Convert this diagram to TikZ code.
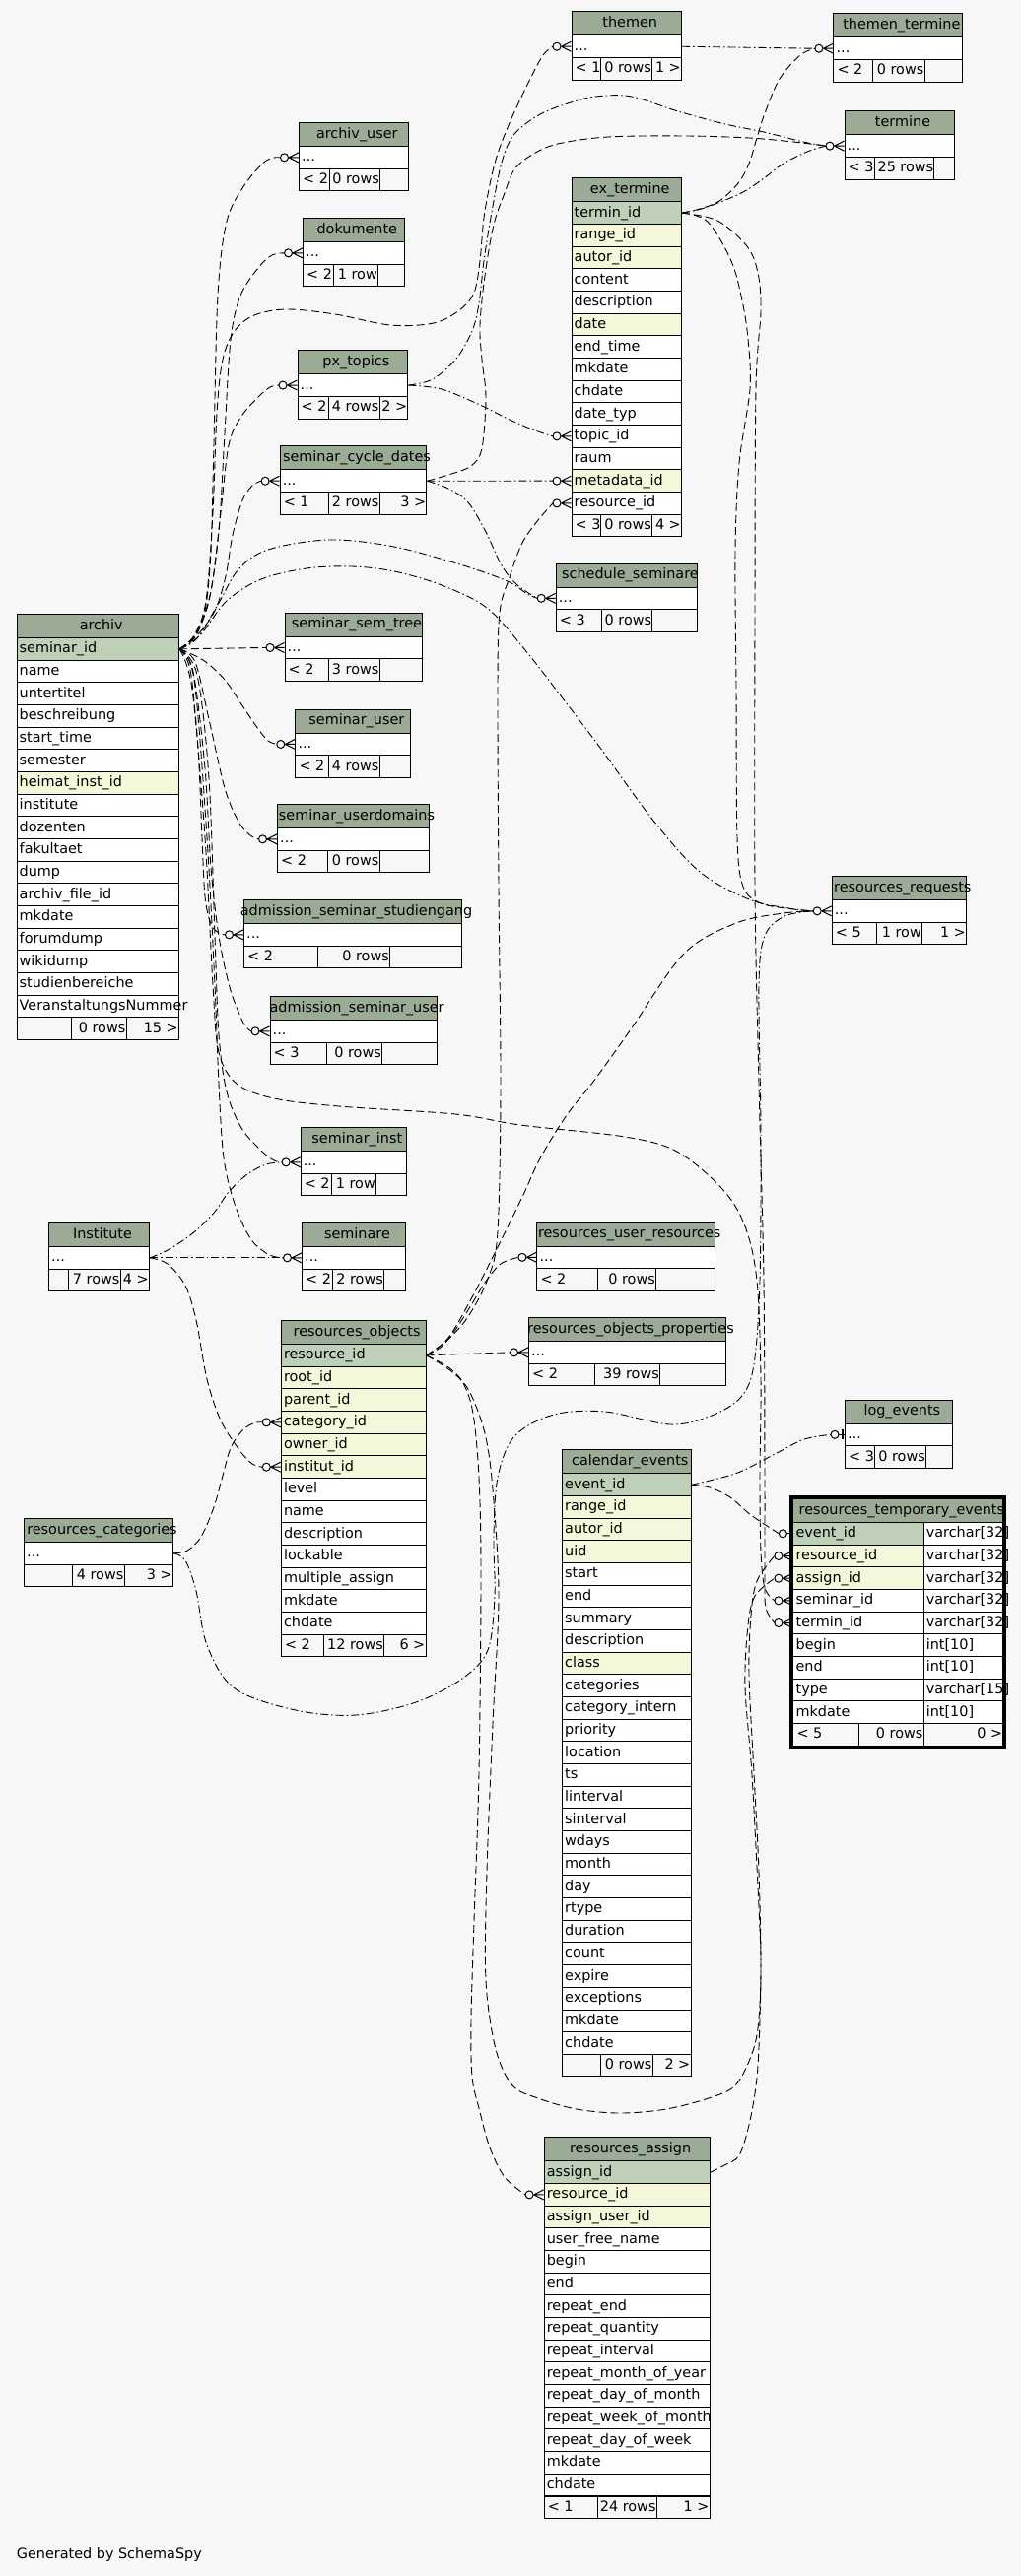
\documentclass[tikz,border=0pt]{standalone}
\usepackage{fontspec}
\setmainfont{DejaVu Sans}
\usetikzlibrary{calc}
\pgfdeclarelayer{back}\pgfdeclarelayer{edges}\pgfsetlayers{back,edges,main}
\definecolor{bgc}{HTML}{F7F7F7}
\definecolor{hdc}{HTML}{9BAB96}
\definecolor{pkc}{HTML}{BED1B8}
\definecolor{fkc}{HTML}{F4F7DA}
\definecolor{wc}{HTML}{FFFFFF}
\definecolor{ftc}{HTML}{F7F7F7}
\newcommand\tfont{\fontsize{14.4}{17}\selectfont}
\newlength\hw
\tikzset{
 txt/.style={inner sep=0pt, font=\tfont, text height=10.5pt, text depth=2.5pt},
 hdcell/.style={draw=black, line width=1pt, fill=hdc, minimum height=24pt, inner sep=0pt},
 rowcell/.style={draw=black, line width=1pt, minimum height=22.67pt, inner sep=0pt},
 ftcell/.style={rowcell, fill=ftc},
 conn/.style={line width=0.9pt, dash pattern=on 8pt off 4pt},
 conndd/.style={line width=0.9pt, dash pattern=on 8pt off 3pt on 1.5pt off 3pt},
 mk/.style={line width=1pt}
}
\newcommand\tabhead[5]{%
 \node[hdcell, minimum width={#3-#2}, anchor=north west] (#1) at (#2,#4) {};
 \settowidth\hw{\tfont #5}%
 \pgfmathsetmacro\hx{max(#2+7+0.5*\hw, 0.5*(#2+#3)+4)}%
 \node[txt, anchor=center] (#1-t) at (\hx,#4+12) {#5};
}
\newcommand\trow[6]{%
 \node[rowcell, fill=#5, minimum width={#3-#2}, anchor=north west] (#1) at (#2,#4) {};
 \node[txt, anchor=west] (#1-t) at ([xshift=3]#1.west) {#6};
}
\newcommand\tbl[6]{%
 \tabhead{#1}{#2}{#3}{#4}{#5}
 \foreach \rt/\rc [count=\i] in {#6} {
  \pgfmathsetmacro\ry{#4+24+(\i-1)*22.67}
  \trow{#1-\i}{#2}{#3}{\ry}{\rc}{\rt}
 }
}
\newcommand\stbl[5]{%
 \tabhead{#1}{#2}{#3}{#4}{#5}
 \trow{#1-1}{#2}{#3}{#4+24}{wc}{...}
}
\newcommand\tfoot[9]{%
 \node[ftcell, minimum width={#3-#2}, anchor=north west] (#1-f1) at (#2,#6) {};
 \node[ftcell, minimum width={#4-#3}, anchor=north west] (#1-f2) at (#3,#6) {};
 \node[ftcell, minimum width={#5-#4}, anchor=north west] (#1-f3) at (#4,#6) {};
 \node[txt, anchor=west] (#1-l) at ([xshift=4]#1-f1.west) {#7};
 \node[txt, anchor=east] (#1-m) at ([xshift=-1]#1-f2.east) {#8};
 \node[txt, anchor=east] (#1-r) at ([xshift=-1]#1-f3.east) {#9};
}
\newcommand\crow[1]{%
 \draw[mk] ([xshift=-10]#1.west) -- ([yshift=5]#1.west) ([xshift=-10]#1.west) -- (#1.west) ([xshift=-10]#1.west) -- ([yshift=-5]#1.west);
 \draw[mk] ([xshift=-14.5]#1.west) circle[radius=4pt];
 \coordinate (#1-in) at ([xshift=-18.5]#1.west);
}
\newcommand\teeo[1]{%
 \draw[mk] ([xshift=-6]#1.west) -- (#1.west);
 \draw[line width=2pt] ([xshift=-2,yshift=5]#1.west) -- ([xshift=-2,yshift=-5]#1.west);
 \draw[mk] ([xshift=-10]#1.west) circle[radius=4pt];
 \coordinate (#1-in) at ([xshift=-14]#1.west);
}
\begin{document}
\begin{tikzpicture}[x=1pt,y=-1pt]
\useasboundingbox (0,0) rectangle (1036,2615);
\begin{pgfonlayer}{back}\fill[bgc] (0,0) rectangle (1036,2615);\end{pgfonlayer}

% ---------- small tables ----------
\stbl{th}{579.5}{691}{11.4}{themen}
\tfoot{th}{579.5}{609}{661}{691}{58.07}{< 1}{0 rows}{1 >}
\stbl{tt}{845.4}{976.3}{13.4}{themen\_termine}
\tfoot{tt}{845.4}{885.3}{937.5}{976.3}{60.07}{< 2}{0 rows}{}
\stbl{te}{856.5}{967.6}{112.3}{termine}
\tfoot{te}{856.5}{887.3}{947.4}{967.6}{158.97}{< 3}{25 rows}{}
\stbl{au}{303}{413.6}{124}{archiv\_user}
\tfoot{au}{303}{334}{385}{413.6}{170.67}{< 2}{0 rows}{}
\stbl{dk}{307}{409.6}{221}{dokumente}
\tfoot{dk}{307}{338}{383}{409.6}{267.67}{< 2}{1 row}{}
\stbl{px}{301.5}{413.3}{355.2}{px\_topics}
\tfoot{px}{301.5}{332.5}{384.6}{413.3}{401.87}{< 2}{4 rows}{2 >}
\stbl{scd}{283.6}{432.4}{452.4}{seminar\_cycle\_dates}
\tfoot{scd}{283.6}{332.5}{384.6}{432.4}{499.07}{< 1}{2 rows}{3 >}
\stbl{ss}{563.7}{707.2}{571.5}{schedule\_seminare}
\tfoot{ss}{563.7}{609.6}{661.3}{707.2}{618.17}{< 3}{0 rows}{}
\stbl{sst}{288.5}{427.5}{621.6}{seminar\_sem\_tree}
\tfoot{sst}{288.5}{332.5}{384.6}{427.5}{668.27}{< 2}{3 rows}{}
\stbl{su}{299.3}{416.4}{719.6}{seminar\_user}
\tfoot{su}{299.3}{332.5}{384.6}{416.4}{766.27}{< 2}{4 rows}{}
\stbl{sud}{281}{435}{816}{seminar\_userdomains}
\tfoot{sud}{281}{332}{384.5}{435}{862.67}{< 2}{0 rows}{}
\stbl{ass}{247}{468}{913}{admission\_seminar\_studiengang}
\tfoot{ass}{247}{322}{395}{468}{959.67}{< 2}{0 rows}{}
\stbl{asu}{273.5}{442.7}{1011}{admission\_seminar\_user}
\tfoot{asu}{273.5}{331}{387}{442.7}{1057.67}{< 3}{0 rows}{}
\stbl{rr}{843.7}{980}{889}{resources\_requests}
\tfoot{rr}{843.7}{889}{935}{980}{935.67}{< 5}{1 row}{1 >}
\stbl{si}{304.6}{412}{1144}{seminar\_inst}
\tfoot{si}{304.6}{336}{381}{412}{1190.67}{< 2}{1 row}{}
\stbl{ins}{49}{151}{1241}{Institute}
\tfoot{ins}{49}{69}{121.6}{151}{1287.67}{}{7 rows}{4 >}
\stbl{sem}{306}{411}{1241}{seminare}
\tfoot{sem}{306}{337}{389}{411}{1287.67}{< 2}{2 rows}{}
\stbl{rur}{544.4}{725}{1240.5}{resources\_user\_resources}
\tfoot{rur}{544.4}{606}{665}{725}{1287.17}{< 2}{0 rows}{}
\stbl{rop}{536}{736}{1337}{resources\_objects\_properties}
\tfoot{rop}{536}{603}{669}{736}{1383.67}{< 2}{39 rows}{}
\stbl{le}{857}{965.7}{1420.5}{log\_events}
\tfoot{le}{857}{887}{939}{965.7}{1467.17}{< 3}{0 rows}{}
\stbl{rc}{24}{175}{1541}{resources\_categories}
\tfoot{rc}{24}{73}{125.5}{175}{1587.67}{}{4 rows}{3 >}

% ---------- big tables ----------
\tbl{ar}{16.5}{181}{623}{archiv}{seminar\_id/pkc, name/wc, untertitel/wc, beschreibung/wc, start\_time/wc, semester/wc, heimat\_inst\_id/fkc, institute/wc, dozenten/wc, fakultaet/wc, dump/wc, archiv\_file\_id/wc, mkdate/wc, forumdump/wc, wikidump/wc, studienbereiche/wc, VeranstaltungsNummer/wc}
\tfoot{ar}{16.5}{72}{127.5}{181}{1032.4}{}{0 rows}{15 >}
\tbl{et}{579.5}{691}{180.3}{ex\_termine}{termin\_id/pkc, range\_id/fkc, autor\_id/fkc, content/wc, description/wc, date/fkc, end\_time/wc, mkdate/wc, chdate/wc, date\_typ/wc, topic\_id/wc, raum/wc, metadata\_id/fkc, resource\_id/wc}
\tfoot{et}{579.5}{609}{661}{691}{521.7}{< 3}{0 rows}{4 >}
\tbl{ro}{284.8}{431.5}{1340}{resources\_objects}{resource\_id/pkc, root\_id/fkc, parent\_id/fkc, category\_id/fkc, owner\_id/fkc, institut\_id/fkc, level/wc, name/wc, description/wc, lockable/wc, multiple\_assign/wc, mkdate/wc, chdate/wc}
\tfoot{ro}{284.8}{328}{389}{431.5}{1658.7}{< 2}{12 rows}{6 >}
\tbl{ce}{570}{700.5}{1471.4}{calendar\_events}{event\_id/pkc, range\_id/fkc, autor\_id/fkc, uid/fkc, start/wc, end/wc, summary/wc, description/wc, class/fkc, categories/wc, category\_intern/wc, priority/wc, location/wc, ts/wc, linterval/wc, sinterval/wc, wdays/wc, month/wc, day/wc, rtype/wc, duration/wc, count/wc, expire/wc, exceptions/wc, mkdate/wc, chdate/wc}
\tfoot{ce}{570}{609.4}{661.5}{700.5}{2084.8}{}{0 rows}{2 >}
\tbl{ra}{551.6}{719.7}{2169.4}{resources\_assign}{assign\_id/pkc, resource\_id/fkc, assign\_user\_id/fkc, user\_free\_name/wc, begin/wc, end/wc, repeat\_end/wc, repeat\_quantity/wc, repeat\_interval/wc, repeat\_month\_of\_year/wc, repeat\_day\_of\_month/wc, repeat\_week\_of\_month/wc, repeat\_day\_of\_week/wc, mkdate/wc, chdate/wc}
\tfoot{ra}{551.6}{605.6}{665.7}{719.7}{2533.5}{< 1}{24 rows}{1 >}

% focus table
\tabhead{rte}{804.4}{1017.3}{1521}{resources\_temporary\_events}
\foreach \ca/\cb/\cc [count=\i] in {event\_id/varchar[32]/pkc, resource\_id/varchar[32]/fkc, assign\_id/varchar[32]/fkc, seminar\_id/varchar[32]/wc, termin\_id/varchar[32]/wc, begin/int[10]/wc, end/int[10]/wc, type/varchar[15]/wc, mkdate/int[10]/wc}{
 \pgfmathsetmacro\ry{1545+(\i-1)*22.67}
 \trow{rte-\i}{804.4}{936.6}{\ry}{\cc}{\ca}
 \trow{rtb-\i}{936.6}{1017.3}{\ry}{wc}{\cb}
}
\tfoot{rte}{804.4}{871}{936.6}{1017.3}{1749}{< 5}{0 rows}{0 >}
\draw[line width=3.3pt] (802.7,1519.3) rectangle (1019,1773.3);

\node[txt, anchor=base west] (gen) at (16.7,2597) {Generated by SchemaSpy};

% ---------- markers ----------
\crow{au-1}\crow{dk-1}\crow{px-1}\crow{scd-1}\crow{th-1}\crow{tt-1}\crow{te-1}
\crow{et-11}\crow{et-13}\crow{et-14}\crow{ss-1}\crow{sst-1}\crow{su-1}\crow{sud-1}
\crow{ass-1}\crow{asu-1}\crow{rr-1}\crow{si-1}\crow{sem-1}\crow{rur-1}\crow{rop-1}
\crow{ro-4}\crow{ro-6}\teeo{le-1}\teeo{rte-1}\crow{rte-2}\crow{rte-3}\crow{rte-4}\crow{rte-5}\crow{ra-2}

% ---------- connectors ----------
\begin{pgfonlayer}{edges}
\tikzset{every plot/.style={smooth,tension=.55}}
% archiv.seminar_id
\draw[conn] plot coordinates {(ar-1.east) (197,648) (208,620) (214,560) (217,450) (221,300) (230,225) (248,188) (270,163) (au-1-in)};
\draw[conn] plot coordinates {(ar-1.east) (198,645) (212,610) (222,540) (228,440) (234,345) (244,300) (262,272) (276,259) (dk-1-in)};
\draw[conn] plot coordinates {(ar-1.east) (199,643) (214,600) (224,520) (232,452) (244,424) (262,403) (274,393) (px-1-in)};
\draw[conn] plot coordinates {(ar-1.east) (200,645) (218,620) (229,585) (236,543) (246,508) (256,493) (scd-1-in)};
\draw[conn] plot coordinates {(ar-1.east) (197,645) (209,610) (216,520) (220,420) (226,365) (238,336) (258,320) (291,314) (340,319) (396,330) (440,328) (466,315) (481,297) (487,265) (491,221) (499,178) (507,150) (520,118) (537,82) (551,56) (th-1-in)};
\draw[conndd] plot coordinates {(ar-1.east) (200,648) (222,612) (242,578) (272,558) (334,548) (400,555) (470,574) (515,590) (535,603) (ss-1-in)};
\draw[conndd] plot coordinates {(ar-1.east) (203,645) (230,610) (265,588) (311,577) (357,575) (400,580) (448,594) (494,617) (533,660) (571,709) (609,759) (663,833) (710,885) (760,913) (800,922) (rr-1-in)};
\draw[conn] (ar-1.east) -- (sst-1-in);
\draw[conn] plot coordinates {(ar-1.east) (206,670) (228,690) (247,718) (262,740) (272,752) (su-1-in)};
\draw[conn] plot coordinates {(ar-1.east) (198,672) (212,730) (228,800) (242,834) (254,848) (sud-1-in)};
\draw[conn] plot coordinates {(ar-1.east) (193,680) (201,760) (205,850) (208,910) (214,938) (222,947) (ass-1-in)};
\draw[conn] plot coordinates {(ar-1.east) (196,682) (208,780) (214,880) (222,950) (233,1002) (244,1032) (250,1043) (asu-1-in)};
\draw[conn] plot coordinates {(ar-1.east) (200,685) (212,790) (218,950) (222,1050) (230,1108) (245,1145) (265,1168) (278,1178) (si-1-in)};
\draw[conn] plot coordinates {(ar-1.east) (197,690) (210,850) (218,1000) (222,1100) (227,1175) (238,1222) (254,1257) (270,1272) (280,1276) (sem-1-in)};
\draw[conn] plot coordinates {(ar-1.east) (195,700) (208,850) (216,1000) (222,1068) (240,1100) (278,1115) (344,1123) (462,1131) (528,1142) (634,1154) (687,1169) (733,1207) (756,1245) (768,1300) (772,1400) (771,1500) (772,1575) (776,1612) (rte-4-in)};
% Institute
\draw[conndd] plot coordinates {(ins-1.east) (172,1268) (198,1250) (218,1230) (232,1210) (251,1192) (270,1182) (si-1-in)};
\draw[conndd] (ins-1.east) -- (sem-1-in);
\draw[conn] plot coordinates {(ins-1.east) (170,1283) (188,1305) (199,1340) (210,1400) (224,1442) (243,1472) (256,1486) (ro-6-in)};
% resources_categories
\draw[conn] plot coordinates {(rc-1.east) (190,1574) (204,1560) (217,1530) (226,1498) (234,1470) (246,1452) (258,1444.5) (ro-4-in)};
\draw[conndd] plot coordinates {(rc-1.east) (188,1584) (199,1615) (210,1670) (238,1714) (300,1736) (361,1741) (422,1728) (469,1704) (495,1675) (502,1620) (501,1560) (505,1500) (522,1458) (562,1436) (614,1433) (680,1446) (722,1437) (752,1418) (765,1385) (771,1300) (772,1150) (770,1000) (776,950) (796,930) (rr-1-in)};
% ex_termine.termin_id
\draw[conn] plot coordinates {(et-1.east) (710,212) (730,204) (749,186) (760,166) (768,140) (776,115) (791,80) (812,56) (tt-1-in)};
\draw[conndd] plot coordinates {(et-1.east) (715,211) (752,196) (775,181) (795,166) (819,154) (te-1-in)};
\draw[conn] plot coordinates {(et-1.east) (718,225) (742,265) (753,305) (759,344) (761,395) (750,470) (746,560) (747,700) (748,850) (754,900) (772,917) (805,923) (rr-1-in)};
\draw[conn] plot coordinates {(et-1.east) (728,224) (758,250) (769,277) (772,316) (767,395) (766,620) (766,900) (770,1100) (775,1300) (776,1500) (776,1600) (777,1632) (rte-5-in)};
% themen, px_topics, seminar_cycle_dates
\draw[conndd] (th-1.east) -- (tt-1-in);
\draw[conndd] plot coordinates {(px-1.east) (448,395) (487,411) (517,426) (543,437) (et-11-in)};
\draw[conndd] plot coordinates {(px-1.east) (439,385) (463,364) (479,336) (486,308) (491,265) (499,215) (509,165) (522,136) (550,115) (586,102) (609,97.5) (641,98) (688,113) (736,126) (775,134) (815,144) (te-1-in)};
\draw[conn] plot coordinates {(scd-1.east) (455,482) (478,473) (489,455) (493,403) (489,365) (487,330) (492,280) (501,228) (512,196) (522,172) (540,157) (566,146) (617,139) (696,138) (760,140) (805,144) (te-1-in)};
\draw[conndd] (scd-1.east) -- (et-13-in);
\draw[conndd] plot coordinates {(scd-1.east) (455,496) (475,510) (493,540) (509,574) (525,594) (ss-1-in)};
% resources_objects.resource_id
\draw[conn] plot coordinates {(ro-1.east) (448,1367) (462,1350) (478,1325) (492,1302) (508,1283) (rur-1-in)};
\draw[conn] (ro-1.east) -- (rop-1-in);
\draw[conn] plot coordinates {(ro-1.east) (452,1362) (474,1338) (495,1298) (505,1250) (508,1100) (506,900) (505,700) (507,622) (517,586) (530,551) (546,528) (et-14-in)};
\draw[conn] plot coordinates {(ro-1.east) (455,1358) (480,1315) (502,1272) (530,1215) (548,1176) (575,1132) (602,1098) (640,1045) (694,968) (747,937) (795,927) (rr-1-in)};
\draw[conn] plot coordinates {(ro-1.east) (455,1388) (470,1404) (480,1435) (486,1500) (488,1600) (486,1800) (481,1950) (478,2050) (479,2108) (486,2140) (497,2180) (512,2210) (ra-2-in)};
\draw[conn] plot coordinates {(ro-1.east) (458,1392) (476,1412) (492,1455) (500,1512) (506,1620) (500,1750) (494,1900) (493,2010) (503,2080) (520,2117) (546,2130) (585,2141) (629,2145) (676,2141) (722,2129) (746,2117) (761,2090) (769,2059) (772,2000) (770,1900) (765,1800) (760,1700) (762,1640) (768,1605) (rte-2-in)};
% resources_assign, calendar_events
\draw[conn] plot coordinates {(ra-1.east) (735,2198) (750,2188) (760,2157) (767,2118) (770,2078) (772,2000) (770,1936) (763,1802) (756,1712) (759,1650) (766,1620) (rte-3-in)};
\draw[conn] plot coordinates {(ce-1.east) (720,1510) (741,1520) (762,1538) (rte-1-in)};
\draw[conndd] plot coordinates {(ce-1.east) (720,1503) (751,1494) (790,1474) (816,1461) (le-1-in)};
\end{pgfonlayer}
\end{tikzpicture}
\end{document}
